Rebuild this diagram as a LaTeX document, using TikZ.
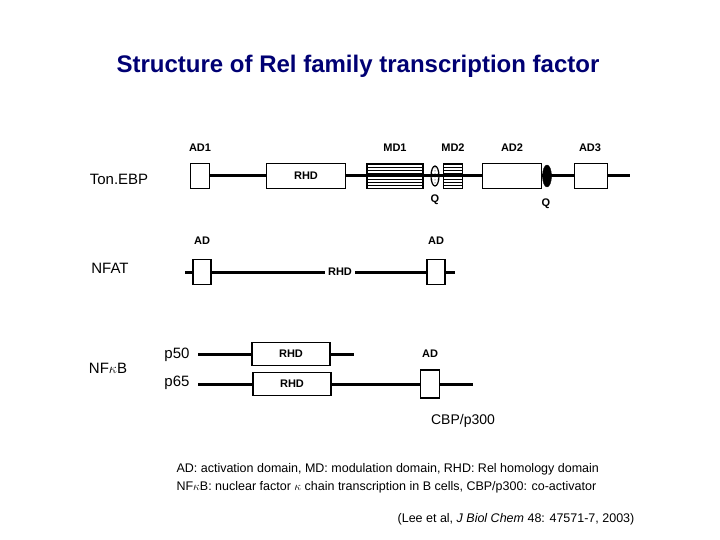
\documentclass[tikz,border=0pt]{standalone}
\usepackage{fontspec}
\setmainfont{Liberation Sans}
\usetikzlibrary{patterns,shapes.geometric}
\begin{document}
\begin{tikzpicture}[x=1pt,y=-1pt,
  lbl/.style={font=\fontsize{11}{12}\selectfont\bfseries},
  big/.style={font=\fontsize{15}{16}\selectfont},
  dom/.style={draw,line width=1.2pt,fill=white,inner sep=0pt,minimum width=#1,minimum height=25},
  hat/.style={draw,line width=1.2pt,pattern=horizontal lines,inner sep=0pt,minimum width=#1,minimum height=25},
  bb/.style={line width=3pt}]
\useasboundingbox (0,0) rectangle (720,540);
\node[font=\fontsize{24}{26}\selectfont\bfseries,text=blue!45!black] (title) at (358,66) {Structure of Rel family transcription factor};
% TonEBP
\node[big] (ton) at (119,179) {Ton.EBP};
\coordinate (t0) at (190,176); \coordinate (t1) at (630,176);
\draw[bb] (t0) -- (t1);
\node[dom=19] (ad1) at (200,176) {};
\node[dom=79] (rhd1) at (306,176) {};
\node[lbl] at (rhd1) {RHD};
\node[hat=56] (md1) at (395,176) {};
\node[draw,line width=1.2pt,pattern=dots,ellipse,inner sep=0pt,minimum width=8,minimum height=20] (q1) at (435,176) {};
\node[hat=19] (md2) at (453,176) {};
\node[dom=59] (ad2) at (512,176) {};
\node[draw,fill=black,ellipse,inner sep=0pt,minimum width=9,minimum height=22] (q2) at (547,176) {};
\node[dom=33] (ad3) at (591,176) {};
\node[lbl] (lad1) at (200,148) {AD1};
\node[lbl] (lmd1) at (395,148) {MD1};
\node[lbl] (lmd2) at (453,148) {MD2};
\node[lbl] (lad2) at (512,148) {AD2};
\node[lbl] (lad3) at (590,148) {AD3};
\node[lbl] (lq1) at (435,200) {Q};
\node[lbl] (lq2) at (546,204) {Q};
% NFAT
\node[big] (nfat) at (110,268) {NFAT};
\coordinate (n0) at (185,272); \coordinate (n1) at (455,272);
\draw[bb] (n0) -- (n1);
\node[dom=18] (nad1) at (202,272) {};
\node[dom=18] (nad2) at (436,272) {};
\node[lbl,fill=white] (nrhd) at (340,272) {RHD};
\node[lbl] (lnad1) at (202,241) {AD};
\node[lbl] (lnad2) at (436,241) {AD};
% NFkB
\node[big] (nfkb) at (108,368) {NF$\kappa$B};
\node[big] (p50) at (177,355) {p50};
\node[big] (p65) at (177,383) {p65};
\coordinate (a0) at (198,354); \coordinate (a1) at (354,354);
\draw[bb] (a0) -- (a1);
\node[dom=78,minimum height=23] (r50) at (291,354) {};
\node[lbl] at (r50) {RHD};
\coordinate (b0) at (198,384); \coordinate (b1) at (473,384);
\draw[bb] (b0) -- (b1);
\node[dom=78,minimum height=23] (r65) at (292,384) {};
\node[lbl] at (r65) {RHD};
\node[dom=19,minimum height=28] (pad) at (430,384) {};
\node[lbl] (lpad) at (430,354) {AD};
\node[font=\fontsize{14}{15}\selectfont] (cbp) at (463,421) {CBP/p300};
% notes
\node[anchor=west,font=\fontsize{12.5}{14}\selectfont] (n1t) at (173,469) {AD: activation domain, MD: modulation domain, RHD: Rel homology domain};
\node[anchor=west,font=\fontsize{12.5}{14}\selectfont] (n2t) at (173,487) {NF$\kappa$B: nuclear factor $\kappa$ chain transcription in B cells, CBP/p300: co-activator};
\node[font=\fontsize{12.5}{14}\selectfont] (cite) at (516,519) {(Lee et al, \textit{J Biol Chem} 48: 47571-7, 2003)};
\end{tikzpicture}
\end{document}
